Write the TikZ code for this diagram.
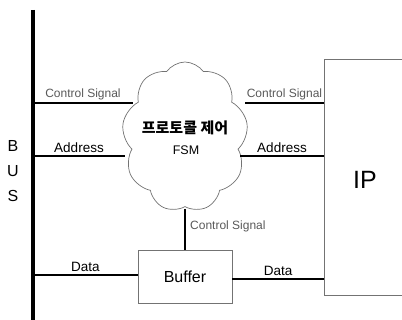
\documentclass[tikz,border=0pt]{standalone}
\usepackage{fontspec}
\setmainfont{Liberation Sans}
\newfontfamily\krfont{Noto Sans CJK KR}
\usetikzlibrary{shapes.symbols}
\definecolor{edge}{gray}{0.45}
\definecolor{lbl}{gray}{0.35}
\begin{document}
\begin{tikzpicture}[x=1pt,y=-1pt,
  wire/.style={line width=2pt,black},
  bus/.style={line width=3.2pt,black},
  thin/.style={line width=0.8pt,edge},
  small/.style={font=\fontsize{12}{12}\selectfont,text=lbl,inner sep=1pt},
  mid/.style={font=\fontsize{13.5}{13.5}\selectfont,inner sep=1pt},
]
\useasboundingbox (0,0) rectangle (402,320);
\clip (0,0) rectangle (402,320);

% system bus
\coordinate (busTop) at (33,10);
\coordinate (busBot) at (33,322);
\draw[bus] (busTop) -- (busBot);
\node[font=\fontsize{16}{16}\selectfont] (lb) at (13,146) {B};
\node[font=\fontsize{16}{16}\selectfont] (lu) at (13,171) {U};
\node[font=\fontsize{16}{16}\selectfont] (ls) at (13,196) {S};

% protocol controller
\node[cloud, cloud puffs=9, cloud puff arc=110, draw=edge, line width=0.7pt, aspect=0.8,
      minimum width=126pt, minimum height=150pt, inner sep=0pt] (fsm) at (185,137) {};
\node[font=\krfont\bfseries\fontsize{15}{15}\selectfont] (fsmk) at (185,128) {프로토콜 제어};
\node[font=\fontsize{12.5}{12.5}\selectfont] (fsmn) at (186,150) {FSM};

% IP block
\coordinate (ipTL) at (324,59);
\coordinate (ipBL) at (324,295);
\draw[thin] (410,59) -- (ipTL) -- (ipBL) -- (410,295);
\node[font=\fontsize{25}{25}\selectfont] (ip) at (365,180) {IP};

% buffer
\node[draw=edge, line width=0.8pt, minimum width=94pt, minimum height=53pt,
      font=\fontsize{16}{16}\selectfont] (buf) at (185,276.5) {Buffer};

% endpoints on the bus, cloud and IP
\coordinate (b1) at (33,103);
\coordinate (b2) at (33,156);
\coordinate (b3) at (33,275);
\coordinate (c1) at (133,103);
\coordinate (c2) at (125,156);
\coordinate (c3) at (245,103);
\coordinate (c4) at (240,156);
\coordinate (c5) at (185,209);
\coordinate (i1) at (324,103);
\coordinate (i2) at (324,156);
\coordinate (i3) at (324,279);

% connectors
\draw[wire] (b1) -- node[small,above=1pt] {Control Signal} (c1);
\draw[wire] (b2) -- node[mid,above=1pt] {Address} (c2);
\draw[wire] (b3) -- node[mid,above=1pt] {Data} (buf.west |- b3);
\draw[wire] (c3) -- node[small,above=1pt] {Control Signal} (i1);
\draw[wire] (c4) -- node[mid,above=1pt] {Address} (i2);
\draw[wire] (buf.east |- i3) -- node[mid,above=1pt] {Data} (i3);
\draw[line width=1.6pt] (c5) -- (buf.north);
\node[small,anchor=west] (csb) at (189,226) {Control Signal};
\end{tikzpicture}
\end{document}
